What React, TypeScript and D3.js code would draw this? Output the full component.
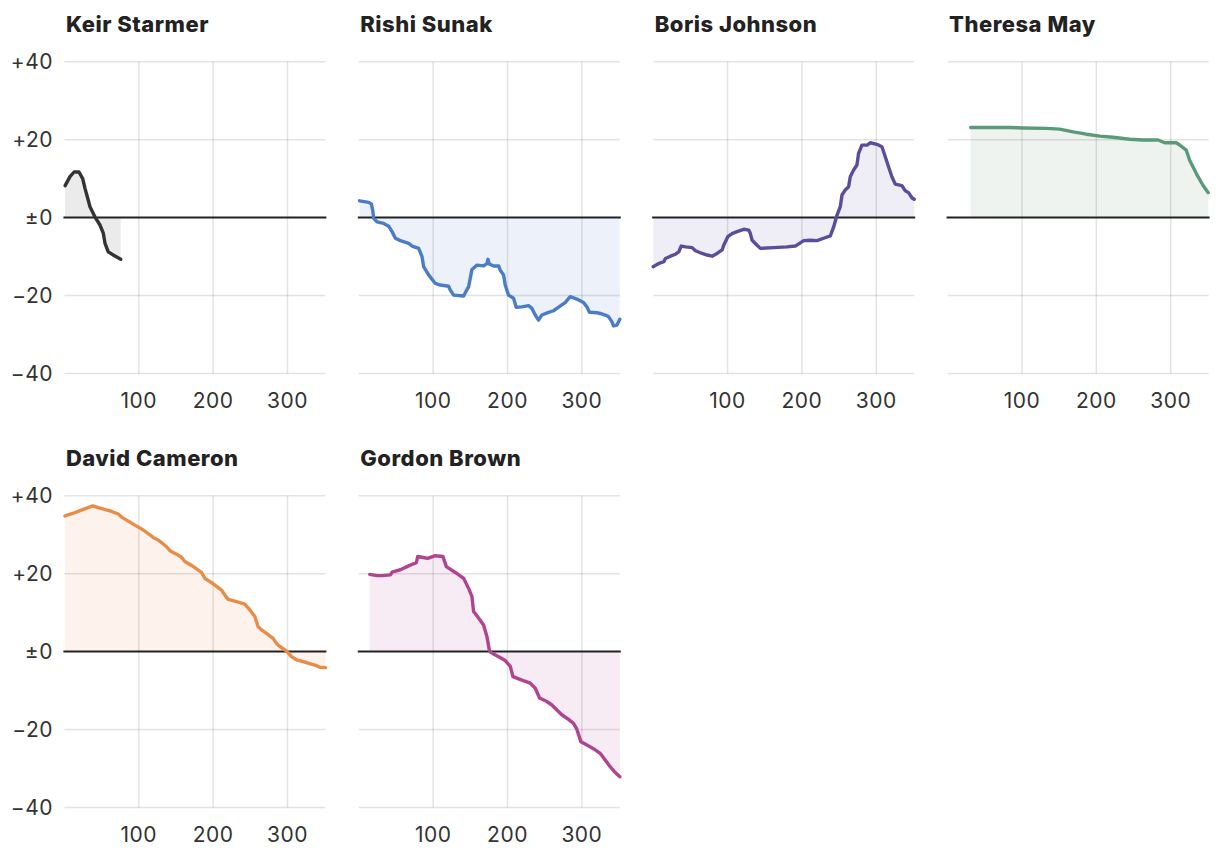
import React from "react";
import * as d3 from "d3";

const names = ["Keir Starmer", "Rishi Sunak", "Boris Johnson", "Theresa May", "David Cameron", "Gordon Brown"];
const lineColors = ["#333333", "#4a7cc8", "#5a4e9c", "#5b9a79", "#e88d48", "#b0448f"];
const fillColors = ["#ebebeb", "#edf2fa", "#efedf5", "#eef3f0", "#fdf3ec", "#f7ebf4"];

const xTicks = [100, 200, 300];
const yTicks = [40, 20, 0, -20, -40];
const yTickLabels = ["+40", "+20", "±0", "\u221220", "\u221240"];

const starmer: [number, number][] = [
  [1, 8.2], [7.5, 10.5], [13, 11.7], [19.6, 11.7], [24.6, 10], [27.7, 7.5], [32, 4.5], [34.4, 2.8],
  [41, 0.2], [47.8, -1.9], [52.3, -4], [54.6, -6.6], [59, -8.8], [65.7, -9.6], [75.7, -10.7],
];

const sunak: [number, number][] = [
  [1, 4.3], [13.3, 3.9], [16.9, 3.5], [18.7, 1.9], [20, -0.2], [24.5, -1.1], [33.5, -1.5], [40.2, -2.2],
  [44.7, -3.6], [49.2, -5.3], [55.9, -5.9], [67.1, -6.6], [71.6, -7.3], [80.5, -7.9], [85, -10],
  [87.2, -12.6], [93.9, -14.7], [102.9, -16.9], [109.6, -17.3], [120.8, -17.6], [123.1, -18.6],
  [127.5, -19.9], [141, -20.1], [143.2, -19.3], [147.7, -17.7], [152.2, -13.3], [158.9, -12.2],
  [167.8, -12.4], [172.3, -11.8], [173.7, -10.7], [175.5, -11.9], [181.3, -12.4], [188, -12.4],
  [190.2, -13.5], [194.7, -14.7], [196.9, -17.3], [201.4, -19.9], [208.1, -20.7], [211.7, -23],
  [219.3, -22.9], [228.3, -22.6], [232.8, -23.3], [237.3, -25], [241.7, -26.3], [246.2, -25],
  [255.2, -24.3], [261.9, -23.9], [266.4, -23.3], [273, -22.4], [277.6, -21.8], [284.3, -20.3],
  [293.2, -20.9], [302.2, -21.8], [306.7, -22.9], [310.2, -24.3], [320.1, -24.4], [324.6, -24.6],
  [331.3, -25], [335.8, -25.4], [340.3, -26.7], [342.5, -27.8], [347, -27.6], [351, -26.1],
];

const johnson: [number, number][] = [
  [0, -12.6], [5.3, -12], [9.8, -11.6], [14.3, -11.3], [16.5, -10.5], [23.2, -9.9], [30, -9.4],
  [34.4, -8.8], [37.6, -7.3], [43.4, -7.5], [52.4, -7.7], [56.8, -8.5], [65.8, -9.2], [72.5, -9.6],
  [79.2, -9.9], [85.9, -9.2], [92.7, -8.3], [94.9, -7.1], [100.3, -4.9], [106.1, -4.1], [112.8, -3.6],
  [121.8, -3], [128.5, -3.2], [130.7, -4.1], [133, -5.8], [139.7, -7.1], [144.1, -7.9], [162, -7.7],
  [180, -7.5], [191.2, -7.3], [202.4, -5.9], [211.3, -5.8], [220.3, -5.9], [229.2, -5.3], [238.2, -4.7],
  [242.7, -2.4], [247.1, 0.6], [251.6, 2.8], [253.9, 5.8], [258.3, 7.1], [262.8, 7.9], [265, 10.5],
  [269.5, 12.2], [274, 13.5], [276.2, 16.5], [280.7, 18.6], [287.5, 18.6], [291.9, 19.2], [300.9, 18.8],
  [307.6, 18.2], [312.1, 15.6], [316.6, 13], [321, 10.5], [325.5, 8.6], [334.5, 8.2], [339, 6.9],
  [343.4, 6.4], [347.9, 5.1], [351, 4.7],
];

const may: [number, number][] = [
  [30.9, 23.1], [83.7, 23.1], [101.6, 23], [133, 22.9], [150.9, 22.7], [168.8, 22], [186.7, 21.4],
  [204.6, 20.9], [222.5, 20.6], [245, 20.1], [262.8, 19.9], [283, 19.9], [292, 19.2], [307.6, 19.2],
  [313, 18.5], [321, 17.3], [325.5, 14.7], [334.5, 11.3], [343.4, 8.3], [350.5, 6.4],
];

const cameron: [number, number][] = [
  [0.8, 34.8], [12, 35.5], [25.4, 36.5], [38, 37.4], [47.8, 36.8], [61.3, 36.1], [72.5, 35.3],
  [76.9, 34.5], [92.6, 32.7], [106, 31.2], [119.5, 29.3], [126.2, 28.6], [132.9, 27.6], [137.4, 26.9],
  [141.9, 25.9], [150.8, 25], [157.5, 24.2], [162, 23.1], [171, 22.1], [177.7, 21.2], [184.4, 20.3],
  [188.9, 18.8], [200.1, 17.4], [211.3, 15.8], [215.8, 14.5], [220.3, 13.4], [231.4, 12.8],
  [242.6, 12.2], [249.4, 10.7], [256.1, 9], [260.5, 6.4], [265, 5.6], [271.7, 4.7], [280.7, 3.4],
  [285.2, 2.1], [289.7, 1.3], [298.6, 0.2], [305.3, -1.3], [312.1, -2.1], [325.5, -2.8], [338.9, -3.6],
  [343.4, -4], [351, -4.1],
];

const brown: [number, number][] = [
  [14.7, 19.8], [24.5, 19.5], [31.3, 19.5], [42.5, 19.7], [44.7, 20.4], [55.9, 21], [64.9, 21.8],
  [71.6, 22.4], [77.4, 22.8], [79.2, 24.4], [85, 24.2], [92.6, 23.9], [102.9, 24.6], [113.2, 24.4],
  [117.7, 21.8], [129.8, 20.3], [141, 18.8], [147.7, 16.2], [152.2, 14.1], [154.4, 10.3], [161.1, 8.6],
  [167.8, 6.8], [172.3, 3.9], [175.9, 0], [181.3, -0.6], [188, -1.3], [197, -2.3], [203.7, -3.8],
  [207.3, -6.4], [219.3, -7.3], [230.5, -8.1], [237.3, -9.4], [243.1, -11.9], [252.9, -12.8],
  [259.7, -13.7], [266.4, -15], [273, -16.2], [282, -17.4], [288.7, -18.4], [293.2, -19.9],
  [298.6, -23.1], [304.4, -23.7], [315.6, -24.9], [324.6, -26.1], [331.3, -27.8], [337.1, -29.3],
  [343.8, -30.8], [351, -32.1],
];

const series = [starmer, sunak, johnson, may, cameron, brown];

const FONT = "Inter, 'Noto Sans', sans-serif";
const PANEL_W = 261;
const COL_STEP = 294.4;
const LEFT = 64.4;
const ROW_STEP = 434;
const TOP = 61.7;
const PLOT_H = 311.8;

function Panel({ idx }: { idx: number }) {
  const col = idx % 4;
  const row = Math.floor(idx / 4);
  const x0 = LEFT + col * COL_STEP;
  const y0 = TOP + row * ROW_STEP;
  const x = d3.scaleLinear().domain([0, 351]).range([x0, x0 + PANEL_W]);
  const y = d3.scaleLinear().domain([-40, 40]).range([y0 + PLOT_H, y0]);
  const data = series[idx];
  const area = d3
    .area<[number, number]>()
    .x((d) => x(d[0]))
    .y0(y(0))
    .y1((d) => y(d[1]))(data);
  const line = d3
    .line<[number, number]>()
    .x((d) => x(d[0]))
    .y((d) => y(d[1]))(data);
  return (
    <g>
      <text x={x0 + 1.5} y={32 + row * ROW_STEP} fontFamily={FONT} fontWeight={800} fontSize={22} letterSpacing={0.5} fill="#222">
        {names[idx]}
      </text>
      <path d={area || ""} fill={fillColors[idx]} />
      {yTicks
        .filter((t) => t !== 0)
        .map((t) => (
          <line key={"h" + t} x1={x0} x2={x0 + PANEL_W} y1={y(t)} y2={y(t)} stroke="#000" strokeOpacity={0.11} strokeWidth={1.5} />
        ))}
      {xTicks.map((t) => (
        <line key={"v" + t} x1={x(t)} x2={x(t)} y1={y(40)} y2={y(-40)} stroke="#000" strokeOpacity={0.11} strokeWidth={1.5} />
      ))}
      {xTicks.map((t) => (
        <text key={"xt" + t} x={x(t)} y={408 + row * ROW_STEP} textAnchor="middle" fontFamily={FONT} fontSize={21} letterSpacing={0.5} fill="#333">
          {t}
        </text>
      ))}
      {col === 0 &&
        yTicks.map((t, i) => (
          <text key={"yt" + t} x={53} y={y(t)} dy="0.36em" textAnchor="end" fontFamily={FONT} fontSize={21} letterSpacing={0.5} fill="#333">
            {yTickLabels[i]}
          </text>
        ))}
      <line x1={x0 - 1} x2={x0 + PANEL_W + 1} y1={y(0)} y2={y(0)} stroke="#222" strokeWidth={2} />
      <path d={line || ""} fill="none" stroke={lineColors[idx]} strokeWidth={3.4} strokeLinejoin="round" strokeLinecap="round" />
    </g>
  );
}

export default function App() {
  return (
    <svg width={1220} height={860} style={{ position: "absolute", left: 0, top: 0, background: "#fff" }}>
      {names.map((_, i) => (
        <Panel key={i} idx={i} />
      ))}
    </svg>
  );
}
